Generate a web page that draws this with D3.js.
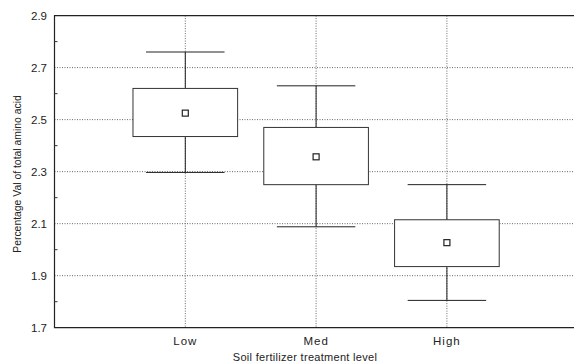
<!DOCTYPE html>
<html>
<head>
<meta charset="utf-8">
<script src="https://d3js.org/d3.v7.min.js"></script>
<style>
  body { margin: 0; background: #fff; }
  svg { font-family: "Liberation Sans", Arial, sans-serif; }
</style>
</head>
<body>
<svg id="chart" width="574" height="364"></svg>
<script>
// data
var levels = ["Low", "Med", "High"];
var whiskerHi = [2.76, 2.63, 2.25];
var boxHi = [2.62, 2.47, 2.115];
var means = [2.525, 2.357, 2.027];
var boxLo = [2.435, 2.25, 1.935];
var whiskerLo = [2.297, 2.088, 1.805];
var yTicks = [1.7, 1.9, 2.1, 2.3, 2.5, 2.7, 2.9];
var yMinor = [1.8, 2.0, 2.2, 2.4, 2.6, 2.8];

var svg = d3.select("#chart");

// plot area
var plotLeft = 54.5, plotTop = 15.6, plotBottom = 327.7;
var step = 130.8;
var x = d3.scaleLinear().domain([0, 4]).range([plotLeft, plotLeft + 4 * step]);
var y = d3.scaleLinear().domain([1.7, 2.9]).range([plotBottom, plotTop]);

// gridlines
svg.append("g").selectAll("line")
  .data(yTicks.slice(1, -1))
  .join("line")
  .attr("x1", plotLeft).attr("x2", 574)
  .attr("y1", d => y(d)).attr("y2", d => y(d))
  .attr("stroke", "#666").attr("stroke-width", 1)
  .attr("stroke-dasharray", "1,1.5");

svg.append("g").selectAll("line")
  .data(levels)
  .join("line")
  .attr("x1", (d, i) => x(i + 1)).attr("x2", (d, i) => x(i + 1))
  .attr("y1", plotTop).attr("y2", plotBottom)
  .attr("stroke", "#666").attr("stroke-width", 1)
  .attr("stroke-dasharray", "1,1.5");

// frame: left, top, bottom
svg.append("path")
  .attr("d", "M574," + plotTop + "H" + plotLeft + "V" + plotBottom + "H574")
  .attr("fill", "none").attr("stroke", "#222").attr("stroke-width", 1.2);

// minor ticks on left axis
svg.append("g").selectAll("line")
  .data(yMinor)
  .join("line")
  .attr("x1", plotLeft).attr("x2", plotLeft + 3)
  .attr("y1", d => y(d)).attr("y2", d => y(d))
  .attr("stroke", "#333");

// y tick labels
svg.append("g").selectAll("text")
  .data(yTicks)
  .join("text")
  .attr("x", 47).attr("y", d => y(d) + 4)
  .attr("text-anchor", "end")
  .attr("font-size", 11.5)
  .attr("fill", "#222")
  .text(d => d.toFixed(1));

// x labels
svg.append("g").selectAll("text")
  .data(levels)
  .join("text")
  .attr("x", (d, i) => x(i + 1)).attr("y", 345)
  .attr("text-anchor", "middle")
  .attr("font-size", 11.5)
  .attr("letter-spacing", 1)
  .attr("fill", "#222")
  .text(d => d);

// axis titles
svg.append("text")
  .attr("x", 305).attr("y", 361)
  .attr("text-anchor", "middle")
  .attr("font-size", 11)
  .attr("letter-spacing", 0.3)
  .attr("fill", "#222")
  .text("Soil fertilizer treatment level");

svg.append("text")
  .attr("transform", "translate(20.5,174) rotate(-90)")
  .attr("text-anchor", "middle")
  .attr("font-size", 10.4)
  .attr("fill", "#222")
  .text("Percentage Val of total amino acid");

// boxes
var boxW = step * 0.4, capW = step * 0.3;
var g = svg.append("g").selectAll("g")
  .data(levels)
  .join("g");

g.append("line")
  .attr("x1", (d, i) => x(i + 1)).attr("x2", (d, i) => x(i + 1))
  .attr("y1", (d, i) => y(whiskerHi[i])).attr("y2", (d, i) => y(boxHi[i]))
  .attr("stroke", "#222");
g.append("line")
  .attr("x1", (d, i) => x(i + 1)).attr("x2", (d, i) => x(i + 1))
  .attr("y1", (d, i) => y(boxLo[i])).attr("y2", (d, i) => y(whiskerLo[i]))
  .attr("stroke", "#222");
g.append("line")
  .attr("x1", (d, i) => x(i + 1) - capW).attr("x2", (d, i) => x(i + 1) + capW)
  .attr("y1", (d, i) => y(whiskerHi[i])).attr("y2", (d, i) => y(whiskerHi[i]))
  .attr("stroke", "#222");
g.append("line")
  .attr("x1", (d, i) => x(i + 1) - capW).attr("x2", (d, i) => x(i + 1) + capW)
  .attr("y1", (d, i) => y(whiskerLo[i])).attr("y2", (d, i) => y(whiskerLo[i]))
  .attr("stroke", "#222");
g.append("rect")
  .attr("x", (d, i) => x(i + 1) - boxW)
  .attr("width", boxW * 2)
  .attr("y", (d, i) => y(boxHi[i]))
  .attr("height", (d, i) => y(boxLo[i]) - y(boxHi[i]))
  .attr("fill", "#fff").attr("stroke", "#333");
g.append("rect")
  .attr("x", (d, i) => x(i + 1) - 3)
  .attr("y", (d, i) => y(means[i]) - 3)
  .attr("width", 6).attr("height", 6)
  .attr("fill", "#fff").attr("stroke", "#222").attr("stroke-width", 1.2);
</script>
</body>
</html>
